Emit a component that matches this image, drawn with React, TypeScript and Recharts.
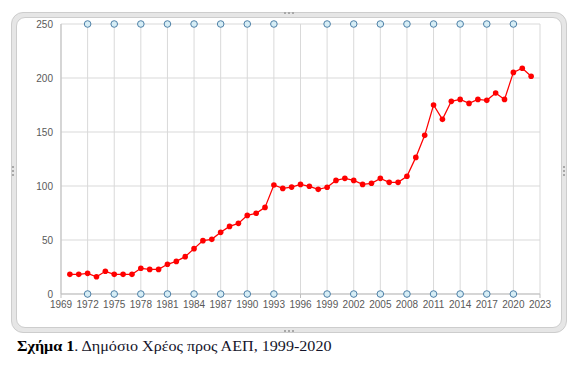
import React from 'react';
import { ComposedChart, Line, XAxis, YAxis, CartesianGrid } from 'recharts';

/* ── Data ───────────────────────────────────────────────────────── */
const years = [
  1970, 1971, 1972, 1973, 1974, 1975, 1976, 1977, 1978, 1979,
  1980, 1981, 1982, 1983, 1984, 1985, 1986, 1987, 1988, 1989,
  1990, 1991, 1992, 1993, 1994, 1995, 1996, 1997, 1998, 1999,
  2000, 2001, 2002, 2003, 2004, 2005, 2006, 2007, 2008, 2009,
  2010, 2011, 2012, 2013, 2014, 2015, 2016, 2017, 2018, 2019,
  2020, 2021, 2022,
];
const debtRatio = [
  18.2, 18.2, 19.1, 16.0, 21.0, 18.2, 18.2, 18.2, 23.8, 22.8,
  22.8, 27.5, 30.2, 34.6, 42.0, 49.4, 50.6, 57.1, 62.6, 65.4,
  72.8, 74.7, 80.2, 100.9, 97.8, 99.0, 101.5, 99.7, 96.9, 98.8,
  105.2, 107.1, 105.2, 101.5, 102.5, 107.1, 103.4, 103.4, 109.0, 126.5,
  146.9, 175.0, 161.7, 178.4, 180.2, 176.5, 180.2, 179.3, 186.1, 180.2,
  205.2, 209.0, 201.6,
];
// marker years drawn as hollow circles along the top and bottom edges
const markerYears = [1972, 1975, 1978, 1981, 1984, 1987, 1990, 1993, 1999, 2002, 2005, 2008, 2011, 2014, 2017, 2020];
const markerLow = 0;
const markerHigh = 250;

const xTicks = [1969, 1972, 1975, 1978, 1981, 1984, 1987, 1990, 1993, 1996, 1999, 2002, 2005, 2008, 2011, 2014, 2017, 2020, 2023];
const yTicks = [0, 50, 100, 150, 200, 250];

const caption = 'Σχήμα 1';
const captionRest = '. Δημόσιο Χρέος προς ΑΕΠ, 1999-2020';

/* ── Tokens ─────────────────────────────────────────────────────── */
const tokens = {
  red: '#ff0000',
  grid: '#d9d9d9',
  axis: '#bfbfbf',
  tick: '#595959',
  markerFill: '#d6edf5',
  markerStroke: '#4f81a8',
  frame: '#e6e6e6',
  frameLine: '#cdcdcd',
  font: "'Liberation Sans', Arial, sans-serif",
  serif: "'Liberation Serif', 'Times New Roman', serif",
};

const debtData = years.map((year, i) => ({ year, value: debtRatio[i] }));
const lowData = markerYears.map((year) => ({ year, value: markerLow }));
const highData = markerYears.map((year) => ({ year, value: markerHigh }));

const markerDot = { r: 3.3, fill: tokens.markerFill, stroke: tokens.markerStroke, strokeWidth: 1 };

const Handle: React.FC<{ left: number; top: number; vertical?: boolean }> = ({ left, top, vertical }) => (
  <div
    style={{
      position: 'absolute',
      left,
      top,
      width: vertical ? 0 : 10,
      height: vertical ? 10 : 0,
      borderTop: vertical ? 'none' : '2px dotted #a8a8a8',
      borderLeft: vertical ? '2px dotted #a8a8a8' : 'none',
    }}
  />
);

export default function App() {
  return (
    <div style={{ position: 'absolute', left: 0, top: 0, width: 586, height: 367, background: '#fff' }}>
      {/* Frame */}
      <div
        style={{
          position: 'absolute',
          left: 11,
          top: 12,
          width: 556,
          height: 321,
          boxSizing: 'border-box',
          background: tokens.frame,
          border: `1px solid ${tokens.frameLine}`,
          borderRadius: 12,
        }}
      >
        <div
          style={{
            position: 'absolute',
            left: 4,
            top: 4,
            right: 4,
            bottom: 4,
            background: '#fff',
            border: `1px solid ${tokens.frameLine}`,
            borderRadius: 9,
          }}
        />
      </div>
      <Handle left={284} top={12} />
      <Handle left={284} top={330} />
      <Handle left={12} top={166} vertical />
      <Handle left={563} top={166} vertical />

      {/* Chart */}
      <div style={{ position: 'absolute', left: 0, top: 0 }}>
        <ComposedChart
          width={586}
          height={330}
          margin={{ top: 24, right: 46, bottom: 6, left: 21 }}
        >
          <CartesianGrid stroke={tokens.grid} strokeWidth={1} />
          <XAxis
            type="number"
            dataKey="year"
            domain={[1969, 2023]}
            ticks={xTicks}
            interval={0}
            height={30}
            axisLine={{ stroke: tokens.axis }}
            tickLine={{ stroke: tokens.axis }}
            tickSize={4}
            tickMargin={3}
            tick={{ fontFamily: tokens.font, fontSize: 10, fill: tokens.tick }}
            allowDecimals={false}
          />
          <YAxis
            type="number"
            domain={[0, 250]}
            ticks={yTicks}
            width={40}
            axisLine={{ stroke: tokens.axis }}
            tickLine={false}
            tickSize={6}
            tickMargin={2}
            tick={{ fontFamily: tokens.font, fontSize: 10, fill: tokens.tick }}
          />
          <Line
            data={debtData}
            dataKey="value"
            type="linear"
            stroke={tokens.red}
            strokeWidth={1.25}
            dot={{ r: 2.8, fill: tokens.red, stroke: tokens.red, strokeWidth: 0 }}
            isAnimationActive={false}
          />
          <Line
            data={lowData}
            dataKey="value"
            stroke="none"
            dot={markerDot}
            isAnimationActive={false}
          />
          <Line
            data={highData}
            dataKey="value"
            stroke="none"
            dot={markerDot}
            isAnimationActive={false}
          />
        </ComposedChart>
      </div>

      {/* Caption */}
      <div
        style={{
          position: 'absolute',
          left: 17,
          top: 339,
          fontFamily: tokens.serif,
          fontSize: 14,
          color: '#14142a',
          whiteSpace: 'nowrap',
          transform: 'scaleX(1.15)',
          transformOrigin: 'left center',
        }}
      >
        <b style={{ color: '#000' }}>{caption}</b>
        {captionRest}
      </div>
    </div>
  );
}
